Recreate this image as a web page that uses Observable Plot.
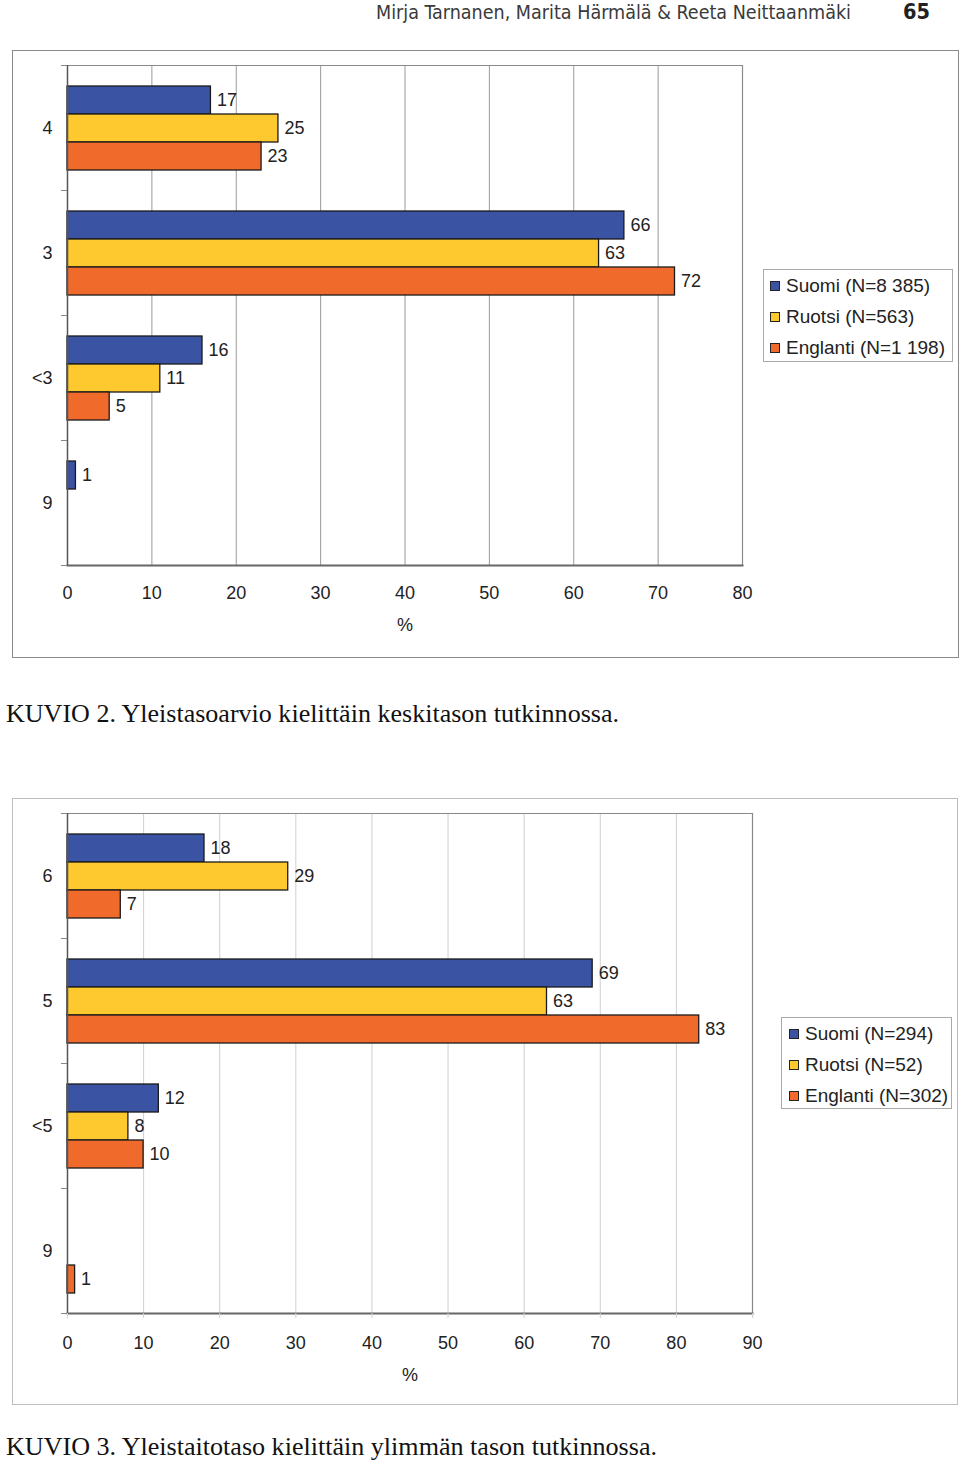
<!DOCTYPE html>
<html>
<head>
<meta charset="utf-8">
<script src="https://cdn.jsdelivr.net/npm/d3@7"></script>
<script src="https://cdn.jsdelivr.net/npm/@observablehq/plot@0.6"></script>
<style>
  html, body { margin: 0; padding: 0; background: #fff; }
  #page { position: relative; width: 960px; height: 1466px; overflow: hidden; font-family: "Liberation Sans", Arial, sans-serif; color: #222; }
  .box { position: absolute; box-sizing: border-box; }
  .fit { position: absolute; white-space: nowrap; transform-origin: 0 0; }
  .header { font-family: "DejaVu Sans", "Open Sans", sans-serif; font-stretch: condensed; font-size: 19px; color: #3a3a3a; line-height: 1.1; }
  .pageno { font-family: "DejaVu Sans", "Open Sans", sans-serif; font-weight: bold; font-size: 21px; color: #222; line-height: 1.1; }
  .caption { font-family: "Liberation Serif", "DejaVu Serif", serif; font-size: 26px; color: #111; line-height: 1.1; }
  .legend { position: absolute; box-sizing: border-box; border: 1px solid #aaa; background: #fff; }
  .legend .row { position: absolute; font-size: 19px; line-height: 1; white-space: nowrap; }
  .legend .sw { position: absolute; width: 10px; height: 10px; box-sizing: border-box; border: 1px solid #222; }
  svg { position: absolute; left: 0; }
</style>
</head>
<body>
<div id="page"></div>
<script>
// ---------- data ----------
const series = ["Suomi", "Ruotsi", "Englanti"];
const seriesColors = ["#3a53a3", "#fdc92f", "#f06b2b"];

// KUVIO 2
const cats2 = ["4", "3", "<3", "9"];
const suomi2 = [17, 66, 16, 1];
const ruotsi2 = [25, 63, 11, null];
const englanti2 = [23, 72, 5, null];
const legend2 = ["Suomi (N=8 385)", "Ruotsi (N=563)", "Englanti (N=1 198)"];
const xTicks2 = [0, 10, 20, 30, 40, 50, 60, 70, 80];

// KUVIO 3
const cats3 = ["6", "5", "<5", "9"];
const suomi3 = [18, 69, 12, null];
const ruotsi3 = [29, 63, 8, null];
const englanti3 = [7, 83, 10, 1];
const legend3 = ["Suomi (N=294)", "Ruotsi (N=52)", "Englanti (N=302)"];
const xTicks3 = [0, 10, 20, 30, 40, 50, 60, 70, 80, 90];

const headerText = "Mirja Tarnanen, Marita Härmälä & Reeta Neittaanmäki";
const pageNumber = "65";
const caption2 = "KUVIO 2. Yleistasoarvio kielittäin keskitason tutkinnossa.";
const caption3 = "KUVIO 3. Yleistaitotaso kielittäin ylimmän tason tutkinnossa.";
const axisLabel = "%";

// ---------- helpers ----------
function rows(cats, cols) {
  const out = [];
  cats.forEach((c, i) => {
    cols.forEach((arr, j) => {
      if (arr[i] != null) out.push({cat: c, series: series[j], value: arr[i]});
    });
  });
  return out;
}

const page = document.getElementById("page");

function addFit(text, cls, left, top, targetWidth) {
  const el = document.createElement("div");
  el.className = "fit " + cls;
  el.textContent = text;
  el.style.left = left + "px";
  el.style.top = top + "px";
  page.appendChild(el);
  const w = el.getBoundingClientRect().width;
  if (targetWidth && w > 0) el.style.transform = `scaleX(${targetWidth / w})`;
  return el;
}

function addBox(left, top, width, height, border) {
  const b = document.createElement("div");
  b.className = "box";
  Object.assign(b.style, {left: left + "px", top: top + "px", width: width + "px", height: height + "px", border: border});
  page.appendChild(b);
}

function addLegend(labels, left, top, width, height, swLeft, textLeft, rowTops) {
  const lg = document.createElement("div");
  lg.className = "legend";
  Object.assign(lg.style, {left: left + "px", top: top + "px", width: width + "px", height: height + "px"});
  labels.forEach((lab, i) => {
    const sw = document.createElement("div");
    sw.className = "sw";
    sw.style.background = seriesColors[i];
    sw.style.left = swLeft + "px";
    sw.style.top = (rowTops[i] - 5) + "px";
    lg.appendChild(sw);
    const t = document.createElement("div");
    t.className = "row";
    t.textContent = lab;
    t.style.left = textLeft + "px";
    t.style.top = (rowTops[i] - 10) + "px";
    lg.appendChild(t);
  });
  page.appendChild(lg);
}

function chart({cats, data, xmax, ticks, top, height, marginRight, marginBottom, gridColor, frameColor, tickSize, tickPadding, labelOffset}) {
  const bandHalf = 500 / cats.length / 2;
  const svg = Plot.plot({
    width: 960,
    height,
    marginLeft: 67,
    marginRight,
    marginTop: 15,
    marginBottom,
    style: {fontFamily: "'Liberation Sans', Arial, sans-serif", fontSize: "18px", color: "#222", background: "transparent", overflow: "visible"},
    x: {domain: [0, xmax], ticks},
    fy: {domain: cats, padding: 0, label: null},
    y: {domain: series, paddingInner: 0, paddingOuter: 0.732, axis: null},
    color: {domain: series, range: seriesColors},
    marks: [
      Plot.gridX(ticks, {stroke: gridColor, strokeOpacity: 1, strokeWidth: 1}),
      Plot.ruleX([xmax], {stroke: frameColor, strokeWidth: 1.2}),
      Plot.frame({anchor: "top", facetAnchor: "top", stroke: frameColor, strokeWidth: 1.2}),
      Plot.barX(data, {fy: "cat", y: "series", x: "value", fill: "series", stroke: "#1a1a1a", strokeWidth: 1.3}),
      Plot.text(data, {fy: "cat", y: "series", x: "value", text: d => String(d.value), textAnchor: "start", dx: 6, fill: "#222", fontSize: 18}),
      Plot.ruleX([0], {stroke: "#555", strokeWidth: 1.5}),
      Plot.frame({anchor: "bottom", facetAnchor: "bottom", stroke: "#666", strokeWidth: 2}),
      Plot.axisFy({anchor: "left", tickSize: 0, tickPadding: 15, label: null, fontSize: 18}),
      Plot.axisFy({anchor: "left", tickSize: 6, tickFormat: () => "", label: null, dy: -bandHalf, stroke: "#888"}),
      Plot.axisFy({anchor: "left", tickSize: 6, tickFormat: () => "", label: null, dy: bandHalf, stroke: "#888"}),
      Plot.axisX(ticks, {tickSize, tickPadding, stroke: gridColor, label: axisLabel, labelAnchor: "center", labelArrow: "none", labelOffset, fontSize: 18})
    ]
  });
  svg.style.top = top + "px";
  page.appendChild(svg);
}

// ---------- header ----------
addFit(headerText, "header", 376, 2, 475);
addFit(pageNumber, "pageno", 903, 1, 27);

// ---------- KUVIO 2 ----------
addBox(12, 50, 947, 608, "1.5px solid #8a8a8a");
chart({cats: cats2, data: rows(cats2, [suomi2, ruotsi2, englanti2]), xmax: 80, ticks: xTicks2,
  top: 50, height: 608, marginRight: 218, marginBottom: 93,
  gridColor: "#9a9a9a", frameColor: "#8a8a8a", tickSize: 0, tickPadding: 21, labelOffset: 65});
addLegend(legend2, 763, 269, 190, 93, 6, 22, [16, 47, 78]);
addFit(caption2, "caption", 6, 700, 613);

// ---------- KUVIO 3 ----------
addBox(12, 798, 946, 607, "1px solid #bdbdbd");
chart({cats: cats3, data: rows(cats3, [suomi3, ruotsi3, englanti3]), xmax: 90, ticks: xTicks3,
  top: 798, height: 607, marginRight: 208, marginBottom: 92,
  gridColor: "#cfcfcf", frameColor: "#888", tickSize: 5, tickPadding: 18, labelOffset: 67});
addLegend(legend3, 781, 1017, 171, 92, 7, 23, [16, 47, 78]);
addFit(caption3, "caption", 6, 1433, 651);
</script>
</body>
</html>
